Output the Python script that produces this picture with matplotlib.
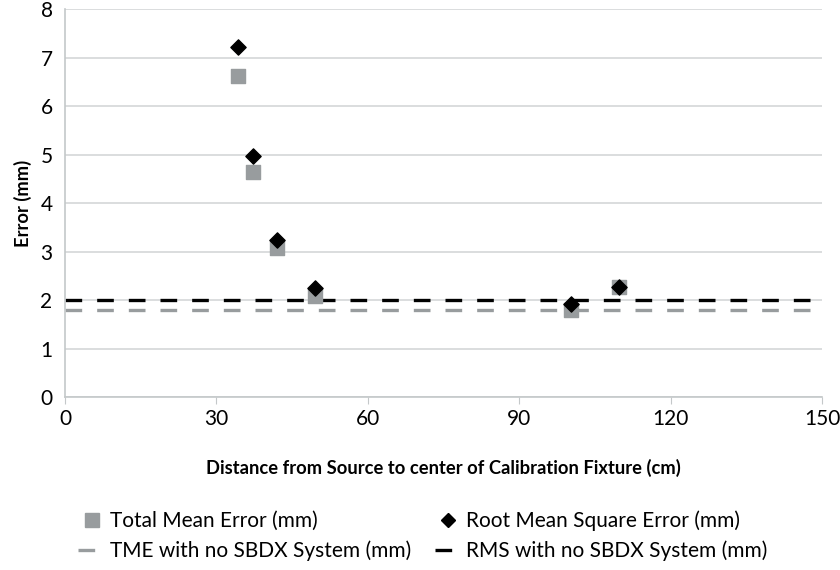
import matplotlib.pyplot as plt
from matplotlib.lines import Line2D

plt.rcParams['font.family'] = ['Lato', 'DejaVu Sans']

# distances (cm) and errors (mm)
dist = [34.3, 37.3, 42.0, 49.5, 100.3, 109.8]
tme = [6.62, 4.65, 3.07, 2.08, 1.80, 2.27]
rms = [7.22, 4.98, 3.23, 2.25, 1.91, 2.26]
tme_ref = 1.8
rms_ref = 2.0
xticks = [0, 30, 60, 90, 120, 150]
yticks = [0, 1, 2, 3, 4, 5, 6, 7, 8]

gray = '#989c9e'

fig = plt.figure(figsize=(8.4, 5.7), dpi=100)
ax = fig.add_axes([0.0774, 0.3035, 0.9012, 0.6805])

ax.set_xlim(0, 150)
ax.set_ylim(0, 8)
ax.set_xticks(xticks)
ax.set_yticks(yticks)
ax.grid(axis='y', color='#d4d7d8', lw=1.2)
ax.set_axisbelow(True)
for s in ['top', 'right']:
   ax.spines[s].set_visible(False)
for s in ['left', 'bottom']:
   ax.spines[s].set_color('#c4c8c9')
   ax.spines[s].set_linewidth(1.2)
ax.tick_params(axis='both', labelsize=15, color='#c4c8c9', length=5)
ax.tick_params(axis='y', length=0, pad=9)

ax.plot([0, 150], [tme_ref, tme_ref], color=gray, lw=2.4, ls=(0, (5, 4.5)))
ax.plot([0, 150], [rms_ref, rms_ref], color='black', lw=2.4, ls=(0, (5, 4.5)))
ax.scatter(dist, tme, marker='s', s=110, color=gray, zorder=3)
ax.scatter(dist, rms, marker='D', s=60, color='black', zorder=4)

ax.set_xlabel('Distance from Source to center of Calibration Fixture (cm)',
              fontsize=13.2, fontweight='bold', labelpad=22)
ax.set_ylabel('Error (mm)', fontsize=13.2, fontweight='bold', labelpad=6)

handles = [
   Line2D([], [], marker='s', ls='none', color=gray, markersize=10),
   Line2D([], [], color=gray, lw=2.4, ls=(0, (5, 4.5))),
   Line2D([], [], marker='D', ls='none', color='black', markersize=7),
   Line2D([], [], color='black', lw=2.4, ls=(0, (5, 4.5))),
]
labels = ['Total Mean Error (mm)', 'TME with no SBDX System (mm)',
          'Root Mean Square Error (mm)', 'RMS with no SBDX System (mm)']
fig.legend(handles, labels, ncol=2, loc='upper left', bbox_to_anchor=(0.071, 0.137),
           frameon=False, fontsize=15, handlelength=1.3, handletextpad=0.2,
           columnspacing=1.15, labelspacing=0.45)

fig.savefig('out.png', dpi=100)
